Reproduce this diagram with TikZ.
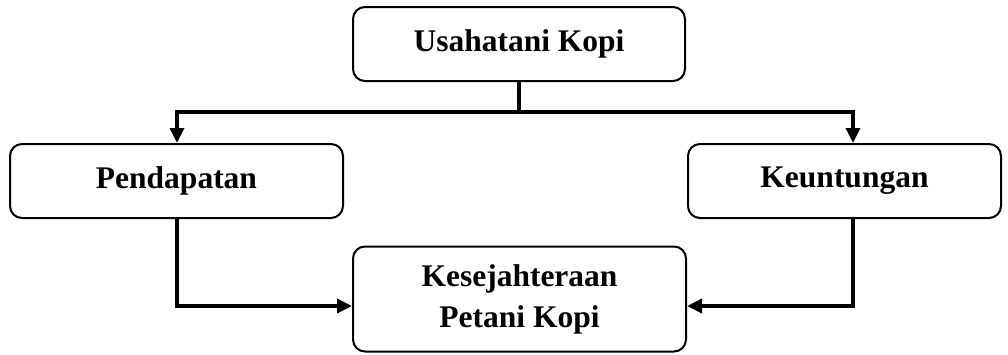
\documentclass[tikz,border=0pt]{standalone}
\usepackage{fontspec}
\setmainfont{Liberation Serif}
\usetikzlibrary{arrows.meta}
\begin{document}
\begin{tikzpicture}[x=1pt,y=-1pt,
  box/.style={draw,line width=2pt,rounded corners=12pt,align=center,
    font=\fontsize{31.5}{41}\selectfont\bfseries,inner sep=0pt},
  conn/.style={line width=3.5pt},
  arr/.style={conn,-{Triangle[width=14pt,length=15pt]}}]
\useasboundingbox (0,0) rectangle (1008,354);
\node[box,minimum width=332pt,minimum height=74pt] (top) at (519,44) {Usahatani Kopi};
\node[box,minimum width=333pt,minimum height=74pt] (left) at (176.5,181) {Pendapatan};
\node[box,minimum width=313pt,minimum height=74pt] (right) at (844.5,181) {Keuntungan};
\node[box,minimum width=333pt,minimum height=105pt] (bot) at (519.5,299) {Kesejahteraan\\Petani Kopi};
\coordinate (jl) at (177,112);
\coordinate (jr) at (853,112);
\coordinate (jc) at (top.south |- jl);
\coordinate (bl) at (177,306);
\coordinate (br) at (853,306);
\draw[conn] (top.south) -- (jc);
\draw[arr] (jc) -- (jl) -- (jl |- left.north);
\draw[arr] (jc) -- (jr) -- (jr |- right.north);
\draw[arr] (jl |- left.south) -- (bl) -- (bot.west |- bl);
\draw[arr] (jr |- right.south) -- (br) -- (bot.east |- br);
\end{tikzpicture}
\end{document}
